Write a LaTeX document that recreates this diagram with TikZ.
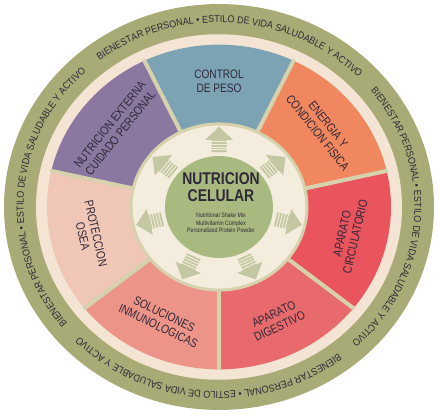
\documentclass[tikz,border=0pt]{standalone}
\usepackage{fontspec}
\setmainfont{Liberation Sans}
\newfontfamily\cond[FakeStretch=0.82]{Liberation Sans}
\newfontfamily\motto[FakeStretch=0.9]{Liberation Sans}
\usetikzlibrary{decorations.text}
\definecolor{band}{HTML}{A9AB76}
\definecolor{creamring}{HTML}{F3E4D3}
\definecolor{sepc}{HTML}{D6D2AE}
\definecolor{pesoc}{HTML}{7CA3B4}
\definecolor{energiac}{HTML}{F0875F}
\definecolor{circc}{HTML}{E9545D}
\definecolor{digc}{HTML}{E86A6C}
\definecolor{solc}{HTML}{EC9488}
\definecolor{oseac}{HTML}{F0C6B6}
\definecolor{cuidc}{HTML}{8A78A0}
\definecolor{diskc}{HTML}{F4ECDD}
\definecolor{corec}{HTML}{A8BA80}
\definecolor{arrowc}{HTML}{C4C8A2}
\definecolor{ink}{HTML}{302838}

\begin{document}
\begin{tikzpicture}[x=1pt, y=1pt,
  seglabel/.style={font=\cond\fontsize{12.3}{13.5}\selectfont, text=ink, align=center},
  stripe/.style={draw=diskc, line width=0.9pt}]
  \useasboundingbox (0,0) rectangle (437,418);
  \def\rband{215}
  \def\rring{183}
  \def\rout{172}
  \def\rin{88}
  \def\rcore{54}
  \def\half{25.714}
  \begin{scope}[shift={(219,211)}, yscale=0.944]
    \coordinate (C) at (0,0);
    \fill[band] (C) circle[radius=\rband];
    \fill[creamring] (C) circle[radius=\rring];
    % the seven sectors
    \foreach \a/\col/\rot/\txt [count=\i] in {
        90/pesoc/0/{CONTROL\\DE PESO},
        38.571/energiac/-51.43/{ENERGIA Y\\CONDICION FISICA},
        -12.857/circc/77.14/{APARATO\\CIRCULATORIO},
        -64.286/digc/25.71/{APARATO\\DIGESTIVO},
        -115.714/solc/-25.71/{SOLUCIONES\\INMUNOLOGICAS},
        192.857/oseac/-77.14/{PROTECCION\\OSEA},
        141.429/cuidc/51.43/{NUTRICION EXTERNA\\CUIDADO PERSONAL}} {
      \fill[\col] ({\a+\half}:\rin)
        arc[start angle={\a+\half}, end angle={\a-\half}, radius=\rin]
        -- ({\a-\half}:\rout)
        arc[start angle={\a-\half}, end angle={\a+\half}, radius=\rout]
        -- cycle;
      \node[seglabel, rotate=\rot] (seg\i) at (\a:133) {\txt};
    }
    \foreach \a in {0,...,6}
      \draw[sepc, line width=4pt] ({90+\half+51.4286*\a}:\rin-2) -- ({90+\half+51.4286*\a}:\rout+1);
    % centre disk with arrows
    \fill[diskc, draw=sepc, line width=3pt] (C) circle[radius=\rin];
    \foreach \a in {90,38.571,-12.857,-64.286,-115.714,192.857,141.429} {
      \begin{scope}[rotate=\a-90]
        \fill[arrowc] (-7.5,58) -- (-7.5,71) -- (-14,71) -- (0,85) -- (14,71)
          -- (7.5,71) -- (7.5,58) -- cycle;
        \foreach \s in {60.5,63.5,66.5,69.5}
          \draw[stripe] (-7.5,\s) -- (7.5,\s);
      \end{scope}
    }
    \fill[corec] (C) circle[radius=\rcore];
    \node[font=\cond\bfseries\fontsize{17}{17}\selectfont, text=ink, align=center]
      (title) at (2,21) {NUTRICION\\CELULAR};
    \node[font=\cond\fontsize{6.4}{7.4}\selectfont, text=ink, align=center]
      (products) at (2,-17) {Nutritional Shake Mix\\Multivitamin Complex\\Personalized Protein Powder};
    % outer motto
    \foreach \c [count=\j] in {86,-4,-94,-184}
      \path[decorate, decoration={text along path, text align=center, text color=ink,
          text={|\motto\fontsize{10}{10}\selectfont|BIENESTAR PERSONAL • ESTILO DE VIDA SALUDABLE Y ACTIVO}}]
        ({\c+55}:195.5) arc[start angle={\c+55}, end angle={\c-55}, radius=195.5];
  \end{scope}
\end{tikzpicture}
\end{document}
